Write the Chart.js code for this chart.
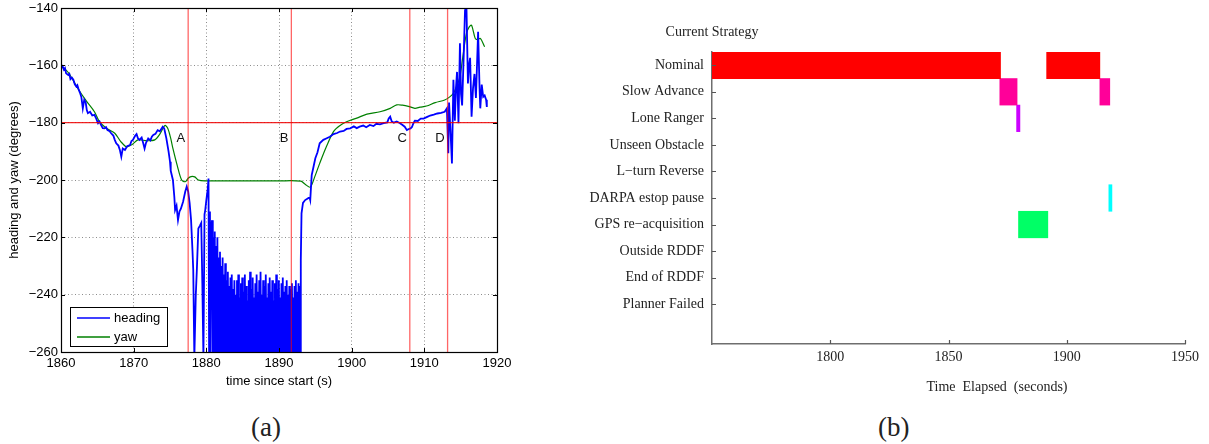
<!DOCTYPE html>
<html>
<head>
<meta charset="utf-8">
<script src="https://cdn.jsdelivr.net/npm/chart.js@4/dist/chart.umd.min.js"></script>
<style>
  html, body { margin: 0; padding: 0; background: #fff; width: 1209px; height: 444px; overflow: hidden; }
  #panelA { position: absolute; left: 0; top: 0; }
  #panelB { position: absolute; left: 560px; top: 0; }
  .cap { position: absolute; top: 410px; font-family: "Liberation Serif", "DejaVu Serif", serif; font-size: 27px; color: #222; line-height: 34px; }
</style>
</head>
<body>
<canvas id="panelA" width="520" height="400"></canvas>
<canvas id="panelB" width="649" height="400"></canvas>
<div class="cap" style="left:251px">(a)</div>
<div class="cap" style="left:878px">(b)</div>
<script>
// ---------- (a) heading vs. yaw ----------
const timeRange = [1860, 1920];
const degRange = [-260, -140];

// heading samples: [time since start (s), degrees]
const headingTrace = [
  [1860.0,-160.5],[1860.2,-160.2],[1860.4,-161.5],[1860.55,-161.0],[1860.7,-162.8],[1861.0,-163.4],
  [1861.15,-163.0],[1861.3,-164.8],[1861.5,-164.3],[1861.7,-165.0],[1861.9,-166.6],[1862.1,-167.4],
  [1862.25,-166.9],[1862.4,-168.2],[1862.6,-169.5],[1862.8,-171.0],[1863.0,-175.0],[1863.2,-172.0],
  [1863.4,-173.0],[1863.55,-175.6],[1863.7,-176.7],[1864.0,-176.2],[1864.3,-177.5],[1864.6,-177.3],
  [1864.85,-178.6],[1865.1,-180.2],[1865.3,-179.6],[1865.5,-180.8],[1865.75,-181.9],[1866.0,-182.0],
  [1866.2,-181.6],[1866.4,-182.6],[1866.7,-183.0],[1866.9,-183.7],[1867.2,-184.5],[1867.4,-186.0],
  [1867.6,-187.2],[1867.9,-188.0],[1868.1,-189.5],[1868.3,-191.9],[1868.5,-189.0],[1868.8,-189.5],
  [1869.1,-188.2],[1869.5,-187.8],[1869.7,-186.4],[1869.9,-186.0],[1870.2,-184.6],[1870.4,-184.0],
  [1870.6,-185.5],[1870.8,-186.0],[1871.1,-185.2],[1871.3,-187.0],[1871.5,-189.0],[1871.7,-187.0],
  [1872.0,-185.5],[1872.3,-186.2],[1872.5,-184.9],[1872.7,-184.3],[1873.0,-183.9],[1873.3,-182.6],
  [1873.6,-183.0],[1874.0,-181.4],[1874.2,-182.0],[1874.5,-185.5],[1874.8,-190.0],[1875.0,-193.6],
  [1875.1,-196.8],[1875.4,-200.0],[1875.6,-206.0],[1875.7,-210.5],[1875.9,-209.0],[1876.1,-214.0],
  [1876.3,-211.0],[1876.5,-210.0],[1876.8,-207.6],[1877.1,-204.0],[1877.3,-202.3],[1877.5,-204.0],
  [1877.7,-208.0],[1877.9,-214.0],[1878.1,-225.0],[1878.2,-231.4],[1878.35,-262],[1878.55,-240],
  [1878.7,-231.0],[1878.9,-216.9],[1879.1,-216.0],[1879.3,-215.0],[1879.45,-236],[1879.6,-262],
  [1879.75,-212],[1879.85,-210.5],[1880.0,-207],[1880.2,-203],[1880.3,-199.5],[1880.38,-262],
  [1880.5,-211],[1880.58,-262],[1880.66,-216],
  [1880.80,-214],[1880.89,-262],[1880.98,-220],[1881.07,-262],[1881.16,-218],[1881.25,-262],
  [1881.34,-223],[1881.43,-262],[1881.52,-220],[1881.61,-262],[1881.70,-227],[1881.79,-262],
  [1881.88,-225],[1881.97,-262],[1882.06,-230],[1882.15,-262],[1882.24,-227],[1882.33,-262],
  [1882.42,-233],[1882.51,-262],[1882.60,-229],[1882.69,-262],[1882.78,-235],[1882.87,-262],
  [1882.96,-232],[1883.05,-262],[1883.14,-237],[1883.23,-262],[1883.32,-234],[1883.41,-262],
  [1883.50,-233],[1883.59,-262],[1883.68,-238],[1883.77,-262],[1883.86,-235],[1883.95,-262],
  [1884.04,-240],[1884.13,-262],[1884.22,-235],[1884.31,-262],[1884.40,-233],[1884.49,-262],
  [1884.58,-241],[1884.67,-262],[1884.76,-236],[1884.85,-262],[1884.94,-234],[1885.03,-262],
  [1885.12,-239],[1885.21,-262],[1885.30,-233],[1885.39,-262],[1885.48,-237],[1885.57,-262],
  [1885.66,-242],[1885.75,-262],[1885.84,-235],[1885.93,-262],[1886.02,-232],[1886.11,-262],
  [1886.20,-238],[1886.29,-262],[1886.38,-234],[1886.47,-262],[1886.56,-241],[1886.65,-262],
  [1886.74,-236],[1886.83,-262],[1886.92,-233],[1887.01,-262],[1887.10,-239],[1887.19,-262],
  [1887.28,-235],[1887.37,-262],[1887.46,-232],[1887.55,-262],[1887.64,-240],[1887.73,-262],
  [1887.82,-235],[1887.91,-262],[1888.00,-237],[1888.09,-262],[1888.18,-233],[1888.27,-262],
  [1888.36,-241],[1888.45,-262],[1888.54,-236],[1888.63,-262],[1888.72,-234],[1888.81,-262],
  [1888.90,-239],[1888.99,-262],[1889.08,-235],[1889.17,-262],[1889.26,-242],[1889.35,-262],
  [1889.44,-236],[1889.53,-262],[1889.62,-233],[1889.71,-262],[1889.80,-238],[1889.89,-262],
  [1889.98,-235],[1890.07,-262],[1890.16,-241],[1890.25,-262],[1890.34,-236],[1890.43,-262],
  [1890.52,-234],[1890.61,-262],[1890.70,-239],[1890.79,-262],[1890.88,-237],[1890.97,-262],
  [1891.06,-235],[1891.15,-262],[1891.24,-240],[1891.33,-262],[1891.42,-237],[1891.51,-262],
  [1891.60,-238],[1891.69,-262],[1891.78,-236],[1891.87,-262],[1891.96,-241],[1892.05,-262],
  [1892.14,-237],[1892.23,-262],[1892.32,-235],[1892.41,-262],[1892.50,-239],[1892.59,-262],
  [1892.68,-236],[1892.77,-262],[1892.86,-237],[1892.93,-262],
  [1893.0,-228],[1893.1,-211.6],[1893.3,-208],[1893.6,-207],[1893.9,-206.5],[1894.2,-206],
  [1894.3,-207],[1894.5,-198.3],[1894.7,-196],[1895.0,-192.4],[1895.3,-190.3],[1895.6,-187.2],
  [1896.1,-186],[1896.5,-185.5],[1897.0,-184.9],[1897.5,-184],[1898.0,-183.6],[1898.4,-183.1],
  [1898.9,-182.9],[1899.3,-182.2],[1899.8,-182.0],[1900.3,-181.3],[1900.7,-181.9],[1901.1,-181.4],
  [1901.6,-181.0],[1902.0,-181.6],[1902.5,-180.8],[1903.0,-181.2],[1903.4,-180.4],[1903.9,-180.6],
  [1904.4,-180.2],[1904.9,-179.9],[1905.1,-178.5],[1905.3,-177.9],[1905.5,-179.5],[1905.8,-180.0],
  [1906.2,-179.6],[1906.6,-180.1],[1907.0,-180.8],[1907.3,-181.4],[1907.6,-182.6],[1907.8,-182.3],
  [1908.1,-182.0],[1908.3,-181.5],[1908.5,-180.2],[1908.7,-179.3],[1909.1,-179.4],[1909.5,-178.6],
  [1909.9,-178.6],[1910.4,-178.0],[1910.8,-177.5],[1911.3,-177.2],[1911.8,-176.8],[1912.3,-176.6],
  [1912.8,-176.2],[1913.1,-175.0],[1913.3,-190.7],[1913.4,-173.0],[1913.6,-183],[1913.8,-194.2],
  [1914.0,-165.0],[1914.2,-179.3],[1914.35,-168],[1914.5,-162.3],[1914.7,-180.2],[1914.9,-152.3],
  [1915.05,-170],[1915.2,-174.0],[1915.4,-158],[1915.6,-140.7],[1915.8,-140.0],[1916.0,-166.3],
  [1916.15,-160],[1916.3,-157.4],[1916.5,-177.9],[1916.7,-168],[1916.9,-163.0],[1917.1,-171.4],
  [1917.4,-148.3],[1917.6,-168],[1917.7,-175.0],[1917.9,-166.7],[1918.1,-171.0],[1918.3,-170.5],
  [1918.5,-172.0],[1918.6,-174.5]
];

// yaw samples: [time since start (s), degrees]
const yawTrace = [
  [1860.0,-160.3],[1861.0,-162.5],[1862.3,-168.0],[1863.5,-172.5],[1864.6,-176.2],[1865.3,-179.7],
  [1866.3,-182.0],[1867.4,-183.7],[1868.2,-186.5],[1869.0,-188.4],[1869.8,-187.6],[1870.6,-186.0],
  [1871.8,-186.3],[1872.9,-186.0],[1873.6,-184.0],[1874.3,-181.0],[1874.7,-182.0],[1875.1,-185.5],
  [1875.4,-189.0],[1876.0,-195.0],[1876.6,-200.0],[1877.1,-200.6],[1877.5,-199.4],[1877.9,-198.8],
  [1878.4,-198.9],[1878.9,-200.0],[1879.8,-200.3],[1885.0,-200.3],[1890.0,-200.3],[1893.0,-200.4],
  [1893.6,-201.5],[1894.3,-202.5],[1894.9,-199.0],[1895.6,-194.2],[1896.5,-188.5],[1897.5,-183.1],
  [1898.4,-181.0],[1899.3,-179.7],[1900.7,-178.4],[1902.1,-177.0],[1903.9,-176.2],[1905.3,-175.0],
  [1906.2,-173.8],[1907.0,-173.9],[1907.8,-174.3],[1908.7,-175.0],[1909.4,-174.6],[1910.3,-174.2],
  [1911.5,-173.0],[1912.8,-172.1],[1913.5,-171.0],[1914.0,-169.8],[1914.5,-167.0],[1914.9,-164.0],
  [1915.3,-157.0],[1915.8,-148.8],[1916.2,-146.5],[1916.5,-146.0],[1917.0,-150.6],[1917.3,-151.0],
  [1917.7,-150.6],[1918.3,-153.5]
];

// marked events and the reference heading
const eventTimes = [1877.5, 1891.7, 1908.0, 1913.2];
const eventNames = ['A', 'B', 'C', 'D'];
const eventLabelDeg = -185.5;
const referenceDeg = -180;

const sansFont = '"Liberation Sans", Arial, Helvetica, sans-serif';
const serifFont = '"Liberation Serif", "Times New Roman", serif';

const toPoints = arr => arr.map(([x, y]) => ({ x, y }));
const minusSign = v => String(v).replace('-', '\u2212');

// red event lines, reference line and event letters
const eventMarks = {
  id: 'eventMarks',
  afterDatasetsDraw(chart) {
    const { ctx, chartArea: a, scales: { x, y } } = chart;
    ctx.save();
    ctx.beginPath();
    ctx.rect(a.left, a.top, a.right - a.left, a.bottom - a.top);
    ctx.clip();
    ctx.lineWidth = 1.3;
    ctx.strokeStyle = 'rgba(255,0,0,0.6)';
    eventTimes.forEach(t => {
      const px = x.getPixelForValue(t);
      ctx.beginPath(); ctx.moveTo(px, a.top); ctx.lineTo(px, a.bottom); ctx.stroke();
    });
    const py = y.getPixelForValue(referenceDeg);
    ctx.strokeStyle = 'rgba(240,0,0,0.85)';
    ctx.beginPath(); ctx.moveTo(a.left, py); ctx.lineTo(a.right, py); ctx.stroke();
    ctx.restore();
    ctx.save();
    ctx.fillStyle = '#111';
    ctx.font = '13px ' + sansFont;
    ctx.textAlign = 'right';
    ctx.textBaseline = 'middle';
    const ly = y.getPixelForValue(eventLabelDeg);
    eventTimes.forEach((t, i) => ctx.fillText(eventNames[i], x.getPixelForValue(t) - 3, ly));
    ctx.restore();
  }
};

// box frame, inward ticks and legend
const frameAndLegend = {
  id: 'frameAndLegend',
  afterDraw(chart) {
    const { ctx, chartArea: a, scales: { x, y } } = chart;
    ctx.save();
    ctx.strokeStyle = '#000';
    ctx.lineWidth = 1;
    ctx.beginPath();
    x.ticks.forEach((t, i) => {
      const px = Math.round(x.getPixelForTick(i)) + 0.5;
      ctx.moveTo(px, a.bottom); ctx.lineTo(px, a.bottom - 4);
      ctx.moveTo(px, a.top); ctx.lineTo(px, a.top + 4);
    });
    y.ticks.forEach((t, i) => {
      const py = Math.round(y.getPixelForTick(i)) + 0.5;
      ctx.moveTo(a.left, py); ctx.lineTo(a.left + 4, py);
      ctx.moveTo(a.right, py); ctx.lineTo(a.right - 4, py);
    });
    ctx.stroke();
    ctx.lineWidth = 1.2;
    ctx.strokeRect(Math.round(a.left) + 0.5, Math.round(a.top) + 0.5,
                   Math.round(a.right - a.left), Math.round(a.bottom - a.top));

    // legend box in the lower-left corner
    const bx = Math.round(a.left) + 9, by = Math.round(a.bottom) - 45, bw = 97, bh = 39;
    ctx.fillStyle = '#fff';
    ctx.fillRect(bx, by, bw, bh);
    ctx.lineWidth = 1;
    ctx.strokeStyle = '#000';
    ctx.strokeRect(bx + 0.5, by + 0.5, bw, bh);
    ctx.font = '13px ' + sansFont;
    ctx.textBaseline = 'middle';
    ctx.textAlign = 'left';
    chart.data.datasets.forEach((ds, i) => {
      const ry = by + 11 + i * 19;
      ctx.strokeStyle = ds.borderColor;
      ctx.lineWidth = 1.5;
      ctx.beginPath(); ctx.moveTo(bx + 7, ry); ctx.lineTo(bx + 40, ry); ctx.stroke();
      ctx.fillStyle = '#000';
      ctx.fillText(ds.label, bx + 44, ry);
    });
    ctx.restore();
  }
};

new Chart(document.getElementById('panelA'), {
  type: 'line',
  data: {
    datasets: [
      { label: 'heading', data: toPoints(headingTrace), borderColor: '#0000ff', borderWidth: 1.8,
        pointRadius: 0, tension: 0, fill: false },
      { label: 'yaw', data: toPoints(yawTrace), borderColor: '#008000', borderWidth: 1.2,
        pointRadius: 0, tension: 0.3, fill: false }
    ]
  },
  options: {
    responsive: false,
    animation: false,
    layout: { padding: { top: 8, right: 23, left: 0, bottom: 0 } },
    plugins: { legend: { display: false }, tooltip: { enabled: false } },
    scales: {
      x: {
        type: 'linear', min: timeRange[0], max: timeRange[1],
        ticks: { stepSize: 10, color: '#000', font: { family: sansFont, size: 13 }, padding: 4,
                 maxRotation: 0, callback: v => String(v) },
        grid: { color: '#8c8c8c', lineWidth: 1, drawTicks: false },
        border: { display: false, dash: [1, 2.5] },
        title: { display: true, text: 'time since start (s)', color: '#000',
                 font: { family: sansFont, size: 13 }, padding: { top: 0, bottom: 11 } },
        afterFit(s) { s.height = 48; s.paddingLeft = 0; s.paddingRight = 0; }
      },
      y: {
        type: 'linear', min: degRange[0], max: degRange[1],
        ticks: { stepSize: 20, color: '#000', font: { family: sansFont, size: 13 }, padding: 3,
                 callback: v => minusSign(v) },
        grid: { color: '#8c8c8c', lineWidth: 1, drawTicks: false },
        border: { display: false, dash: [1, 2.5] },
        title: { display: true, text: 'heading and yaw (degrees)', color: '#000',
                 font: { family: sansFont, size: 13 }, padding: { top: 7, bottom: 0 } },
        afterFit(s) { s.width = 61; s.paddingTop = 0; s.paddingBottom = 0; }
      }
    }
  },
  plugins: [eventMarks, frameAndLegend]
});

// ---------- (b) current strategy timeline ----------
const strategies = ['Nominal', 'Slow Advance', 'Lone Ranger', 'Unseen Obstacle', 'L\u2212turn Reverse',
  'DARPA estop pause', 'GPS re\u2212acquisition', 'Outside RDDF', 'End of RDDF', 'Planner Failed'];
const rowLabels = strategies.concat(['']);
const elapsedRange = [1750, 1950];

// active intervals [start, end] in seconds elapsed
const nominalSpans = [[1750, 1872], [1891.5, 1914]];
const slowAdvanceSpans = [[1871.7, 1879], [1914, 1918.2]];
const loneRangerSpans = [[1878.8, 1880.2]];
const estopPauseSpans = [[1917.8, 1919.1]];
const gpsReacqSpans = [[1879.6, 1892]];

const spanGroups = [
  { row: 'Nominal', spans: nominalSpans, color: '#ff0000' },
  { row: 'Slow Advance', spans: slowAdvanceSpans, color: '#ff0099' },
  { row: 'Lone Ranger', spans: loneRangerSpans, color: '#cc00ff' },
  { row: 'DARPA estop pause', spans: estopPauseSpans, color: '#00ffff' },
  { row: 'GPS re\u2212acquisition', spans: gpsReacqSpans, color: '#00ff66' }
];

const barSets = [];
spanGroups.forEach(g => g.spans.forEach(s => {
  barSets.push({
    label: g.row,
    data: rowLabels.map(l => (l === g.row ? s : null)),
    backgroundColor: g.color,
    borderWidth: 0,
    barPercentage: 1,
    categoryPercentage: 1,
    grouped: false
  });
}));

// title, axis caption and inward tick marks
const strategyDecor = {
  id: 'strategyDecor',
  afterDraw(chart) {
    const { ctx, chartArea: a, scales: { x, y } } = chart;
    ctx.save();
    ctx.strokeStyle = '#555';
    ctx.lineWidth = 1.2;
    ctx.beginPath();
    x.ticks.forEach((t, i) => {
      if (t.value === elapsedRange[0]) return;
      const px = Math.round(x.getPixelForTick(i)) + 0.5;
      ctx.moveTo(px, a.bottom); ctx.lineTo(px, a.bottom - 4);
    });
    strategies.forEach((s, i) => {
      const py = Math.round(y.getPixelForValue(i)) + 0.5;
      ctx.moveTo(a.left, py); ctx.lineTo(a.left + 4, py);
    });
    ctx.stroke();
    ctx.fillStyle = '#222';
    ctx.font = '14px ' + serifFont;
    ctx.textAlign = 'center';
    ctx.textBaseline = 'middle';
    ctx.fillText('Current Strategy', a.left, 32);
    ctx.fillText('Time  Elapsed  (seconds)', (a.left + a.right) / 2 + 48.5, 387);
    ctx.restore();
  }
};

new Chart(document.getElementById('panelB'), {
  type: 'bar',
  data: { labels: rowLabels, datasets: barSets },
  options: {
    responsive: false,
    animation: false,
    indexAxis: 'y',
    layout: { padding: { top: 52, right: 24, left: 0, bottom: 0 } },
    plugins: { legend: { display: false }, tooltip: { enabled: false } },
    scales: {
      x: {
        type: 'linear', min: elapsedRange[0], max: elapsedRange[1],
        ticks: { stepSize: 50, color: '#222', font: { family: serifFont, size: 14 }, padding: 5,
                 maxRotation: 0, callback: v => (v === elapsedRange[0] ? '' : String(v)) },
        grid: { display: true, drawOnChartArea: false, drawTicks: false },
        border: { display: true, color: '#6e6e6e', width: 1.5 },
        afterFit(s) { s.height = 56; s.paddingLeft = 0; s.paddingRight = 0; }
      },
      y: {
        type: 'category',
        offset: true,
        ticks: { color: '#222', font: { family: serifFont, size: 14 }, padding: 8, autoSkip: false },
        grid: { display: true, drawOnChartArea: false, drawTicks: false, offset: false },
        border: { display: true, color: '#6e6e6e', width: 1.5 },
        afterFit(s) { s.width = 152; s.paddingTop = 0; s.paddingBottom = 0; }
      }
    }
  },
  plugins: [strategyDecor]
});
</script>
</body>
</html>
